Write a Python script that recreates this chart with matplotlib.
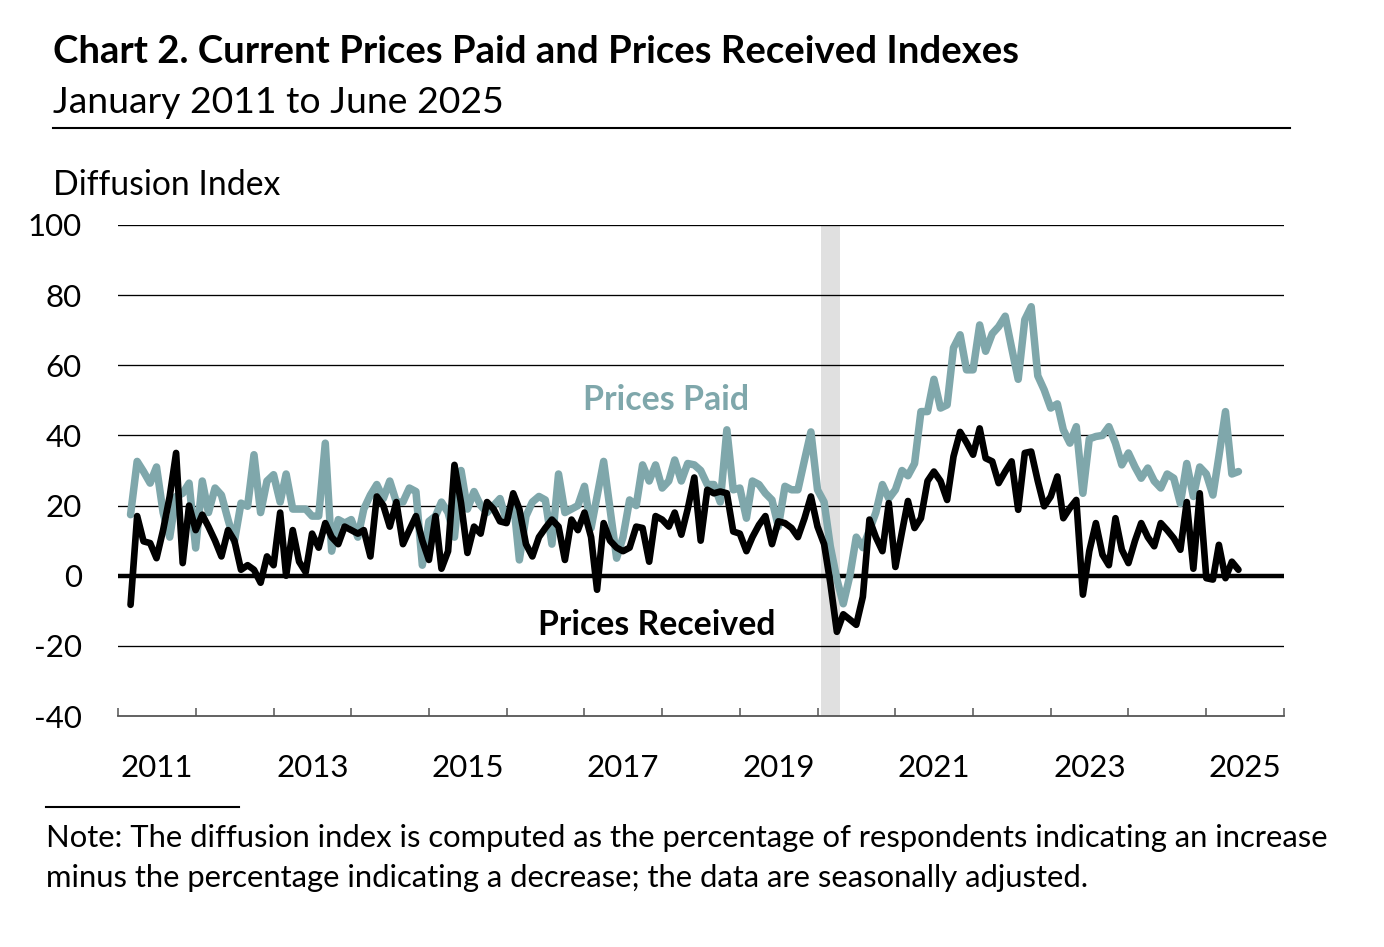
import matplotlib
matplotlib.use("Agg")
import matplotlib.pyplot as plt
import matplotlib.transforms as mtransforms
import pandas as pd

plt.rcParams['font.family'] = ['Lato', 'DejaVu Sans']

# ---------------- data ----------------
dates = pd.date_range('2011-03-01', '2025-06-01', freq='MS')

prices_paid = [
    17.4, 32.6, 29.7, 26.4, 31, 18, 11, 22.6, 23.5, 26.4,            # 2011 Mar-Dec
    7.9, 27, 18, 25, 23, 16, 9.8, 20.7, 19.8, 34.5, 18, 27,          # 2012
    28.8, 21, 29, 19, 19, 19, 17, 17, 37.8, 7, 16, 15,               # 2013
    16, 11, 19, 23, 26, 22, 27, 21, 21, 25, 24, 3,                   # 2014
    15.5, 17, 21, 18, 11, 30, 19, 24, 20, 18, 20, 22,                # 2015
    15.5, 22, 4.5, 17, 21, 22.6, 21.6, 9, 29, 18, 19, 20,            # 2016
    25.5, 13.6, 22.6, 32.6, 19, 5, 11, 21.6, 20, 31.6, 27, 31.6,     # 2017
    25, 27, 33, 27, 32, 31.6, 30, 26, 26, 21, 41.6, 24.5,            # 2018
    25, 16.4, 27, 26, 23.5, 21.6, 14, 25.5, 24.5, 24.5, 33, 41,      # 2019
    24.5, 21, 8.4, -1, -8, 0, 11, 8, 13, 18, 26, 22,                 # 2020
    24.5, 30, 28.5, 32, 46.8, 46.8, 56, 47.8, 48.7, 65, 68.7, 58.7,  # 2021
    58.7, 71.5, 64, 69, 71, 74, 65, 56, 73, 76.7, 57, 53,            # 2022
    47.8, 49, 41.6, 37.8, 42.5, 23.5, 39, 39.7, 40, 42.5, 37.8, 31.6,# 2023
    35, 31, 27.8, 30.7, 27, 25, 29, 27.8, 20.6, 32, 22.6, 31,        # 2024
    29, 23, 34, 46.8, 29, 29.7,                                      # 2025 Jan-Jun
]

prices_received = [
    -8.3, 17, 9.8, 9.3, 5, 13, 22.6, 35, 3.6, 20,                    # 2011 Mar-Dec
    13, 17.4, 14, 10, 5.5, 13, 10, 1.7, 3, 1.7, -2, 5.5,             # 2012
    3, 18, 0, 13, 4, 1, 12, 8, 15, 11, 9, 14,                        # 2013
    13, 12, 13, 5.5, 22.6, 20, 14, 21, 9, 13, 17, 10,                # 2014
    4.5, 17, 2, 7, 31.6, 20.7, 6.5, 14, 12, 21, 19, 15.5,            # 2015
    15, 23.5, 19, 9, 5.5, 11, 13.6, 16, 14, 4.5, 16, 13,             # 2016
    18, 11, -4, 15, 10, 8, 7, 8, 14, 13.6, 4, 17,                    # 2017
    16, 14, 18, 11.7, 19, 28, 10, 24.5, 23.5, 24, 23.5, 12.6,        # 2018
    12, 7, 11, 14.5, 17, 9, 15.5, 15, 13.6, 11, 16.4, 22.6,          # 2019
    14, 9, -2, -16, -11, -12.5, -14, -6, 16, 11, 7, 20.7,            # 2020
    2.5, 12.5, 21.3, 13.6, 16.4, 27, 29.7, 27, 21.6, 34, 41, 38,     # 2021
    34.5, 42, 33.5, 32.6, 26.4, 29.7, 32.6, 18.8, 35, 35.4, 27, 19.8,# 2022
    22.6, 28.3, 16.4, 19.3, 21.6, -5.4, 7, 15, 6, 3, 16.4, 7.4,      # 2023
    3.6, 10, 15, 11, 8.4, 15, 13, 10.7, 7.4, 21, 2, 23.5,            # 2024
    -0.7, -1.1, 8.8, -0.7, 4, 1.7,                                   # 2025 Jan-Jun
]

recession_start = pd.Timestamp('2020-02-01')
recession_end = pd.Timestamp('2020-04-01')

y_ticks = [-40, -20, 0, 20, 40, 60, 80, 100]
x_label_years = [2011, 2013, 2015, 2017, 2019, 2021, 2023, 2025]

title = 'Chart 2. Current Prices Paid and Prices Received Indexes'
subtitle = 'January 2011 to June 2025'
y_axis_title = 'Diffusion Index'
note_lines = ['Note: The diffusion index is computed as the percentage of respondents indicating an increase',
              'minus the percentage indicating a decrease; the data are seasonally adjusted.']

# ---------------- figure ----------------
W, H = 1384, 947
fig = plt.figure(figsize=(W / 100, H / 100), dpi=100)
renderer = fig.canvas.get_renderer()

def fy(ypx):
    return 1 - ypx / H

def fx(xpx):
    return xpx / W

ax_left, ax_right, ax_top, ax_bottom = 118, 1284, 225, 716
ax = fig.add_axes([fx(ax_left), fy(ax_bottom), (ax_right - ax_left) / W, (ax_bottom - ax_top) / H])

paid_color = '#7FA7AB'
ax.set_xlim(pd.Timestamp('2011-01-01'), pd.Timestamp('2026-01-01'))
ax.set_ylim(-40, 100)

# recession shading (centred on monthly points)
half = pd.Timedelta(days=15.5)
ax.axvspan(recession_start - half, recession_end + half, color='#E0E0E0', lw=0, zorder=0)

# gridlines
for yv in y_ticks:
    if yv == -40:
        continue
    if yv == 0:
        ax.axhline(0, color='black', lw=3.2, zorder=2)
    else:
        ax.axhline(yv, color='black', lw=0.95, zorder=1)

ax.plot(dates, prices_paid, color=paid_color, lw=5.4, solid_joinstyle='round',
        solid_capstyle='round', zorder=3)
ax.plot(dates, prices_received, color='black', lw=4.8, solid_joinstyle='round',
        solid_capstyle='round', zorder=4)

# spines
for s in ['top', 'right', 'left']:
    ax.spines[s].set_visible(False)
ax.spines['bottom'].set_color('#555555')
ax.spines['bottom'].set_linewidth(1.3)

# ticks
year_ticks = pd.date_range('2011-01-01', '2026-01-01', freq='YS')
ax.set_xticks(year_ticks)
ax.set_xticklabels([])
ax.tick_params(axis='x', direction='in', length=6, width=1.1, color='#555555')
ax.set_yticks(y_ticks)
ax.set_yticklabels([str(v) for v in y_ticks], fontsize=22.5)
ax.tick_params(axis='y', length=0, pad=26)

blend = mtransforms.blended_transform_factory(ax.transData, fig.transFigure)
for yr in x_label_years:
    ax.text(pd.Timestamp(f'{yr}-07-02'), fy(777), str(yr), transform=blend,
            ha='center', va='baseline', fontsize=22.5)

def fit(t, target):
    bb = t.get_window_extent(renderer)
    t.set_fontsize(t.get_fontsize() * target / bb.width)

t1 = fig.text(fx(53), fy(63), title, fontsize=20, fontweight='bold', va='baseline')
fit(t1, 967)
t2 = fig.text(fx(53), fy(113), subtitle, fontsize=22, va='baseline')
fit(t2, 449)
t3 = fig.text(fx(53), fy(195), y_axis_title, fontsize=20, va='baseline')
fit(t3, 228)
n1 = fig.text(fx(46), fy(847), note_lines[0], fontsize=18, va='baseline')
fit(n1, 1279)
n2 = fig.text(fx(46), fy(887), note_lines[1], fontsize=n1.get_fontsize(), va='baseline')

fig.add_artist(plt.Line2D([fx(53), fx(1290)], [fy(128.3), fy(128.3)], color='black', lw=1.5))
fig.add_artist(plt.Line2D([fx(46), fx(239)], [fy(806.5), fy(806.5)], color='black', lw=1.5))

lp = fig.text(fx(666), fy(410), 'Prices Paid', fontsize=20, fontweight='bold',
              color=paid_color, ha='center', va='baseline')
fit(lp, 166)
lr = fig.text(fx(657), fy(635), 'Prices Received', fontsize=20, fontweight='bold',
              color='black', ha='center', va='baseline')
fit(lr, 238)

fig.savefig('out.png', dpi=100)
